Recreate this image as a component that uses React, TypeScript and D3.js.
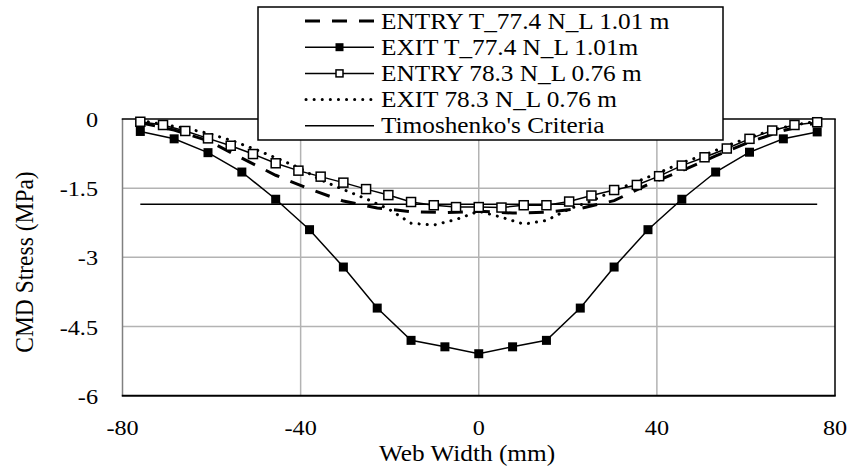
import React from "react";
import * as d3 from "d3";

const xTicks = [-80, -40, 0, 40, 80];
const yTicks = [0, -1.5, -3, -4.5, -6];
const yTickLabels = ["0", "-1.5", "-3", "-4.5", "-6"];

const xSeriesA = [-76, -68.4, -60.8, -53.2, -45.6, -38, -30.4, -22.8, -15.2, -7.6, 0, 7.6, 15.2, 22.8, 30.4, 38, 45.6, 53.2, 60.8, 68.4, 76];
const xSeriesB = [-76, -70.9, -65.9, -60.8, -55.7, -50.7, -45.6, -40.5, -35.5, -30.4, -25.3, -20.3, -15.2, -10.1, -5.1, 0, 5.1, 10.1, 15.2, 20.3, 25.3, 30.4, 35.5, 40.5, 45.6, 50.7, 55.7, 60.8, 65.9, 70.9, 76];

const entryT = [-0.08, -0.24, -0.47, -0.85, -1.22, -1.52, -1.78, -1.93, -2.01, -2.03, -2.0, -2.04, -2.02, -1.94, -1.77, -1.42, -1.12, -0.8, -0.5, -0.25, -0.08];
const exitT = [-0.27, -0.43, -0.73, -1.15, -1.74, -2.4, -3.21, -4.1, -4.8, -4.94, -5.09, -4.94, -4.8, -4.1, -3.21, -2.4, -1.74, -1.15, -0.72, -0.43, -0.28];
const entry78 = [-0.06, -0.13, -0.26, -0.42, -0.58, -0.76, -0.96, -1.12, -1.25, -1.38, -1.52, -1.65, -1.8, -1.87, -1.91, -1.91, -1.92, -1.87, -1.87, -1.79, -1.66, -1.54, -1.43, -1.24, -1.01, -0.83, -0.64, -0.43, -0.25, -0.13, -0.07];
const exit78 = [-0.03, -0.12, -0.2, -0.31, -0.46, -0.64, -0.84, -1.05, -1.32, -1.53, -1.73, -1.95, -2.26, -2.3, -2.18, -2.0, -2.13, -2.28, -2.2, -1.95, -1.78, -1.55, -1.36, -1.16, -0.95, -0.78, -0.58, -0.4, -0.24, -0.13, -0.05];
const timoX = [-76, 76];
const timoY = [-1.85, -1.85];

const legendLabels = [
  "ENTRY T_77.4 N_L 1.01 m",
  "EXIT T_77.4 N_L 1.01m",
  "ENTRY 78.3 N_L 0.76 m",
  "EXIT 78.3 N_L 0.76 m",
  "Timoshenko's Criteria",
];

const W = 850;
const H = 468;
const SX = 1.1;
const FONT = "Liberation Serif";

const x = d3.scaleLinear().domain([-80, 80]).range([122.5, 835]);
const y = d3.scaleLinear().domain([-6, 0]).range([395.7, 119]);

const line = d3
  .line<[number, number]>()
  .x((d) => x(d[0]))
  .y((d) => y(d[1]));

const zip = (xs: number[], ys: number[]) => xs.map((v, i) => [v, ys[i]] as [number, number]);

function T({ x: tx, y: ty, anchor = "start", size = 22, children, rotate = false }: any) {
  const tf = rotate
    ? `translate(${tx},${ty}) scale(${SX},1) rotate(-90)`
    : `translate(${tx},${ty}) scale(${SX},1)`;
  return (
    <text transform={tf} textAnchor={anchor} style={{ fontFamily: FONT, fontSize: size }} fill="#000">
      {children}
    </text>
  );
}

export default function App() {
  const left = x(-80), right = x(80), top = y(0), bottom = y(-6);
  const dashStyle = { stroke: "#000", strokeWidth: 3, strokeDasharray: "15,12", fill: "none" };
  const dotStyle = { stroke: "#000", strokeWidth: 3, strokeDasharray: "0.1,8", strokeLinecap: "round" as const, fill: "none" };
  const legX0 = 305, legX1 = 374, legY0 = 21, legDY = 26.2;
  return (
    <svg width={W} height={H} style={{ position: "absolute", left: 0, top: 0, background: "#fff" }}>
      <rect x={0} y={0} width={W} height={H} fill="#fff" />
      {xTicks.slice(1, -1).map((t) => (
        <line key={"gx" + t} x1={x(t)} x2={x(t)} y1={top} y2={bottom} stroke="#b3b3b3" strokeWidth={1.5} />
      ))}
      {yTicks.slice(1, -1).map((t) => (
        <line key={"gy" + t} x1={left} x2={right} y1={y(t)} y2={y(t)} stroke="#b3b3b3" strokeWidth={1.5} />
      ))}
      <line x1={left} x2={left} y1={top} y2={bottom} stroke="#808080" strokeWidth={1.5} />
      <line x1={left - 0.75} x2={right + 0.75} y1={top} y2={top} stroke="#000" strokeWidth={1.5} />
      <line x1={right} x2={right} y1={top} y2={bottom} stroke="#000" strokeWidth={1.5} />
      <line x1={left - 0.75} x2={right + 0.75} y1={bottom} y2={bottom} stroke="#000" strokeWidth={2} />

      <path d={line(zip(timoX, timoY)) || ""} stroke="#000" strokeWidth={1.5} fill="none" />
      <path d={line(zip(xSeriesB, exit78)) || ""} style={dotStyle} />
      <path d={line(zip(xSeriesA, entryT)) || ""} style={dashStyle} />
      <path d={line(zip(xSeriesB, entry78)) || ""} stroke="#000" strokeWidth={1.5} fill="none" />
      {zip(xSeriesB, entry78).map((d, i) => (
        <rect key={"o" + i} x={x(d[0]) - 4.5} y={y(d[1]) - 4.5} width={9} height={9} fill="#fff" stroke="#000" strokeWidth={1.5} />
      ))}
      <path d={line(zip(xSeriesA, exitT)) || ""} stroke="#000" strokeWidth={1.5} fill="none" />
      {zip(xSeriesA, exitT).map((d, i) => (
        <rect key={"f" + i} x={x(d[0]) - 4.5} y={y(d[1]) - 4.5} width={9} height={9} fill="#000" />
      ))}

      {yTicks.map((t, i) => (
        <T key={"yl" + t} x={98} y={y(t) + 8} anchor="end" size={22}>{yTickLabels[i]}</T>
      ))}
      {xTicks.map((t) => (
        <T key={"xl" + t} x={x(t)} y={435} anchor="middle" size={22}>{String(t)}</T>
      ))}
      <T x={467} y={461} anchor="middle" size={23}>Web Width (mm)</T>
      <T x={33} y={262} anchor="middle" size={23.5} rotate>CMD Stress (MPa)</T>

      <rect x={258} y={7} width={465} height={133} fill="#fff" stroke="#000" strokeWidth={1.5} />
      <line x1={legX0} x2={legX1} y1={legY0} y2={legY0} style={dashStyle} />
      <line x1={legX0} x2={legX1} y1={legY0 + legDY} y2={legY0 + legDY} stroke="#000" strokeWidth={1.5} />
      <rect x={(legX0 + legX1) / 2 - 4} y={legY0 + legDY - 4} width={8} height={8} fill="#000" />
      <line x1={legX0} x2={legX1} y1={legY0 + 2 * legDY} y2={legY0 + 2 * legDY} stroke="#000" strokeWidth={1.5} />
      <rect x={(legX0 + legX1) / 2 - 3.5} y={legY0 + 2 * legDY - 3.5} width={7} height={7} fill="#fff" stroke="#000" strokeWidth={1.5} />
      <line x1={legX0 + 1} x2={legX1} y1={legY0 + 3 * legDY} y2={legY0 + 3 * legDY} style={dotStyle} />
      <line x1={legX0} x2={legX1} y1={legY0 + 4 * legDY} y2={legY0 + 4 * legDY} stroke="#000" strokeWidth={1.5} />
      {legendLabels.map((s, i) => (
        <T key={"lg" + i} x={381} y={legY0 + i * legDY + 7.5} size={23}>{s}</T>
      ))}
    </svg>
  );
}
